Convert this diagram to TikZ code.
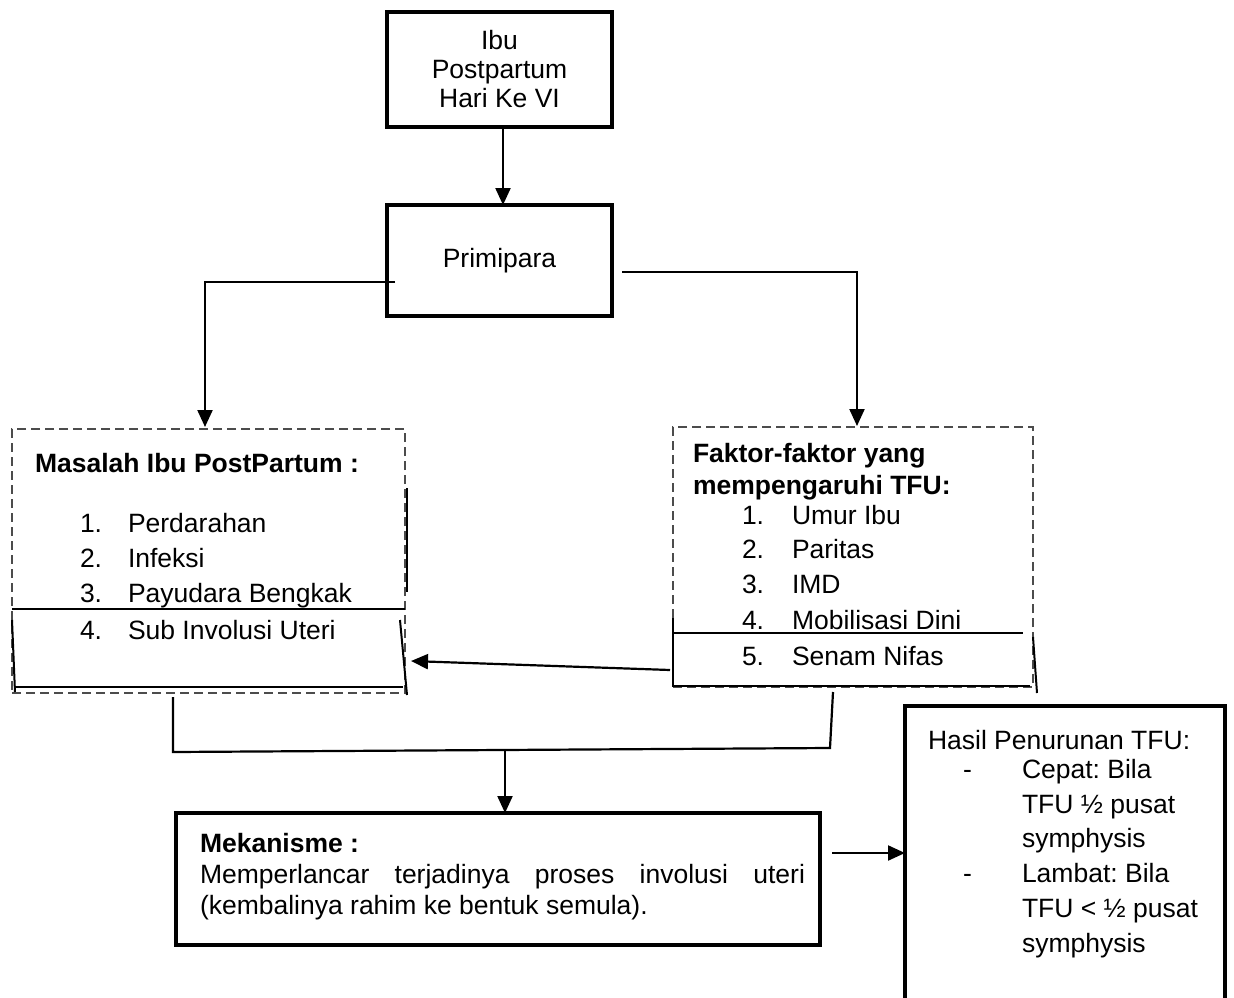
\documentclass[tikz,border=0pt]{standalone}
\usepackage{fontspec}
\setmainfont{Liberation Sans}
\usetikzlibrary{arrows.meta}
\frenchspacing
\begin{document}
\begin{tikzpicture}[x=1pt,y=-1pt,
  every node/.style={font=\fontsize{26.5}{29}\selectfont, inner sep=0pt, outer sep=0pt},
  thickbox/.style={draw, line width=4.8pt, rectangle, anchor=north west},
  dashbox/.style={draw=black!70, dash pattern=on 9pt off 5pt, line width=1.5pt, rectangle, anchor=north west},
  conn/.style={line width=2.2pt},
  solid2/.style={line width=2pt},
  arr/.style={line width=2.2pt, -{Triangle[length=17pt,width=15pt]}},
  t/.style={anchor=base west},
  tb/.style={anchor=base west, font=\fontsize{26.5}{29}\selectfont\bfseries},
]
\useasboundingbox (0,0) rectangle (1234,998);

% top boxes
\node[thickbox, minimum width=225pt, minimum height=115pt, align=center] (ibu) at (387,12) {\rule{0pt}{8pt}Ibu\\Postpartum\\Hari Ke VI};
\node[thickbox, minimum width=225pt, minimum height=111pt] (prim) at (387,205) {Primipara};
\draw[arr] (ibu.south -| 503,0) -- (prim.north -| 503,0);

% left dashed box
\node[dashbox, minimum width=393pt, minimum height=264pt] (mas) at (12,429) {};
\draw[solid2] (12,609) -- (405,609);
\draw[solid2] (407,488) -- (407,592);
\draw[solid2] (12,620) -- (15,692);
\draw[solid2] (400,620) -- (407,695);
\draw[solid2] (15,687) -- (403,687);
\node[tb] (masT) at (35,472) {Masalah Ibu PostPartum :};
\node[t] (m1n) at (80,532) {1.};
\node[t] (m1) at (128,532) {Perdarahan};
\node[t] (m2n) at (80,567) {2.};
\node[t] (m2) at (128,567) {Infeksi};
\node[t] (m3n) at (80,602) {3.};
\node[t] (m3) at (128,602) {Payudara Bengkak};
\node[t] (m4n) at (80,639) {4.};
\node[t] (m4) at (128,639) {Sub Involusi Uteri};

% right dashed box
\node[dashbox, minimum width=360pt, minimum height=260pt] (fak) at (673,427) {};
\draw[solid2] (673,633) -- (1023,633);
\draw[solid2] (673,618) -- (673,687);
\draw[solid2] (673,686) -- (1030,686);
\draw[solid2] (1033,637) -- (1037,693);
\node[tb] (fT1) at (693,462) {Faktor-faktor yang};
\node[tb] (fT2) at (693,494) {mempengaruhi TFU:};
\node[t] (f1n) at (742,524) {1.};
\node[t] (f1) at (792,524) {Umur Ibu};
\node[t] (f2n) at (742,558) {2.};
\node[t] (f2) at (792,558) {Paritas};
\node[t] (f3n) at (742,593) {3.};
\node[t] (f3) at (792,593) {IMD};
\node[t] (f4n) at (742,629) {4.};
\node[t] (f4) at (792,629) {Mobilisasi Dini};
\node[t] (f5n) at (742,665) {5.};
\node[t] (f5) at (792,665) {Senam Nifas};

% connectors from Primipara
\coordinate (pl) at (395,282);
\coordinate (plt) at (205,427);
\coordinate (pr) at (622,272);
\coordinate (prt) at (857,426);
\draw[arr] (pl) -- (205,282) -- (plt);
\draw[arr] (pr) -- (857,272) -- (prt);

% arrow from factors to problems
\coordinate (fa) at (670,670);
\coordinate (ma) at (411,661);
\draw[arr] (fa) -- (ma);

% merge
\coordinate (ml) at (173,697);
\coordinate (mr) at (833,692);
\draw[conn] (ml) -- (173,752) -- (830,748) -- (mr);

% mekanisme box
\node[thickbox, minimum width=644pt, minimum height=132pt] (mek) at (176,813) {};
\coordinate (mj) at (505,750);
\draw[arr] (mj) -- (mek.north -| mj);
\node[tb] (mk1) at (200,852) {Mekanisme :};
\node[t] (mk2) at (200,883) {\makebox[605pt][s]{Memperlancar terjadinya proses involusi uteri}};
\node[t] (mk3) at (200,914) {(kembalinya rahim ke bentuk semula).};

% hasil box
\node[thickbox, minimum width=320pt, minimum height=320pt] (has) at (905,706) {};
\coordinate (ha) at (832,853);
\draw[arr] (ha) -- (has.west |- ha);
\node[t] (h0) at (928,749) {Hasil Penurunan TFU:};
\node[t] (h1n) at (963,778) {-};
\node[t] (h1) at (1022,778) {Cepat: Bila};
\node[t] (h2) at (1022,813) {TFU ½ pusat};
\node[t] (h3) at (1022,847) {symphysis};
\node[t] (h4n) at (963,882) {-};
\node[t] (h4) at (1022,882) {Lambat: Bila};
\node[t] (h5) at (1022,917) {TFU < ½ pusat};
\node[t] (h6) at (1022,952) {symphysis};
\end{tikzpicture}
\end{document}
